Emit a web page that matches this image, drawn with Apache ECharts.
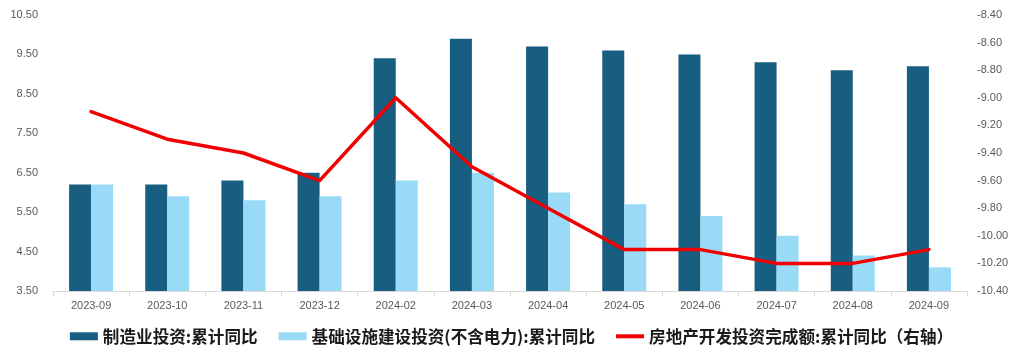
<!DOCTYPE html>
<html>
<head>
<meta charset="utf-8">
<script src="https://cdn.jsdelivr.net/npm/echarts@6/dist/echarts.min.js"></script>
<style>html,body{margin:0;padding:0;background:#fff}#c{width:1023px;height:361px}</style>
</head>
<body>
<div id="c"></div>
<script>
const categories = ['2023-09','2023-10','2023-11','2023-12','2024-02','2024-03','2024-04','2024-05','2024-06','2024-07','2024-08','2024-09'];
const manufacturing = [6.2, 6.2, 6.3, 6.5, 9.4, 9.9, 9.7, 9.6, 9.5, 9.3, 9.1, 9.2];
const infrastructure = [6.2, 5.9, 5.8, 5.9, 6.3, 6.5, 6.0, 5.7, 5.4, 4.9, 4.4, 4.1];
const realEstate = [-9.1, -9.3, -9.4, -9.6, -9.0, -9.5, -9.8, -10.1, -10.1, -10.2, -10.2, -10.1];
const seriesNames = ['制造业投资:累计同比', '基础设施建设投资(不含电力):累计同比', '房地产开发投资完成额:累计同比（右轴）'];

const chart = echarts.init(document.getElementById('c'), null, {renderer: 'canvas'});
const axisFont = {color: '#595959', fontSize: 11, fontFamily: 'Liberation Sans, Arial, sans-serif'};
chart.setOption({
  animation: false,
  backgroundColor: '#fff',
  grid: {left: 53, right: 56, top: 15, bottom: 70},
  legend: {
    top: 323, left: 'center',
    itemWidth: 28, itemHeight: 8, itemGap: 21,
    textStyle: {fontSize: 16.6, color: '#1a1a1a', fontWeight: 'bold', fontFamily: 'Noto Sans CJK SC, sans-serif'},
    data: [
      {name: seriesNames[0], icon: 'rect'},
      {name: seriesNames[1], icon: 'rect'},
      {name: seriesNames[2], icon: 'path://M0 0H28V4H0Z'}
    ]
  },
  xAxis: {
    type: 'category', data: categories,
    axisLine: {show: true, lineStyle: {color: '#d9d9d9', width: 1}},
    axisTick: {show: true, alignWithLabel: false, length: 5, lineStyle: {color: '#d9d9d9'}},
    axisLabel: Object.assign({margin: 9}, axisFont)
  },
  yAxis: [
    {
      type: 'value', min: 3.5, max: 10.5, interval: 0.5,
      splitLine: {show: false}, axisLine: {show: false}, axisTick: {show: false},
      axisLabel: Object.assign({
        margin: 15,
        formatter: v => (Math.abs(((v - 3.5) % 1)) < 1e-6 ? v.toFixed(2) : '')
      }, axisFont)
    },
    {
      type: 'value', min: -10.4, max: -8.4, interval: 0.2, position: 'right',
      splitLine: {show: false}, axisLine: {show: false}, axisTick: {show: false},
      axisLabel: Object.assign({margin: 10, formatter: v => v.toFixed(2)}, axisFont)
    }
  ],
  series: [
    {name: seriesNames[0], type: 'bar', data: manufacturing, barWidth: 22, barGap: '0%', itemStyle: {color: '#175e81'}},
    {name: seriesNames[1], type: 'bar', data: infrastructure, barWidth: 22, barGap: '0%', itemStyle: {color: '#99daf6'}},
    {name: seriesNames[2], type: 'line', yAxisIndex: 1, data: realEstate, symbol: 'none',
     lineStyle: {color: '#f00000', width: 3.5, join: 'round', cap: 'round'}, itemStyle: {color: '#f00000'}}
  ]
});
</script>
</body>
</html>
